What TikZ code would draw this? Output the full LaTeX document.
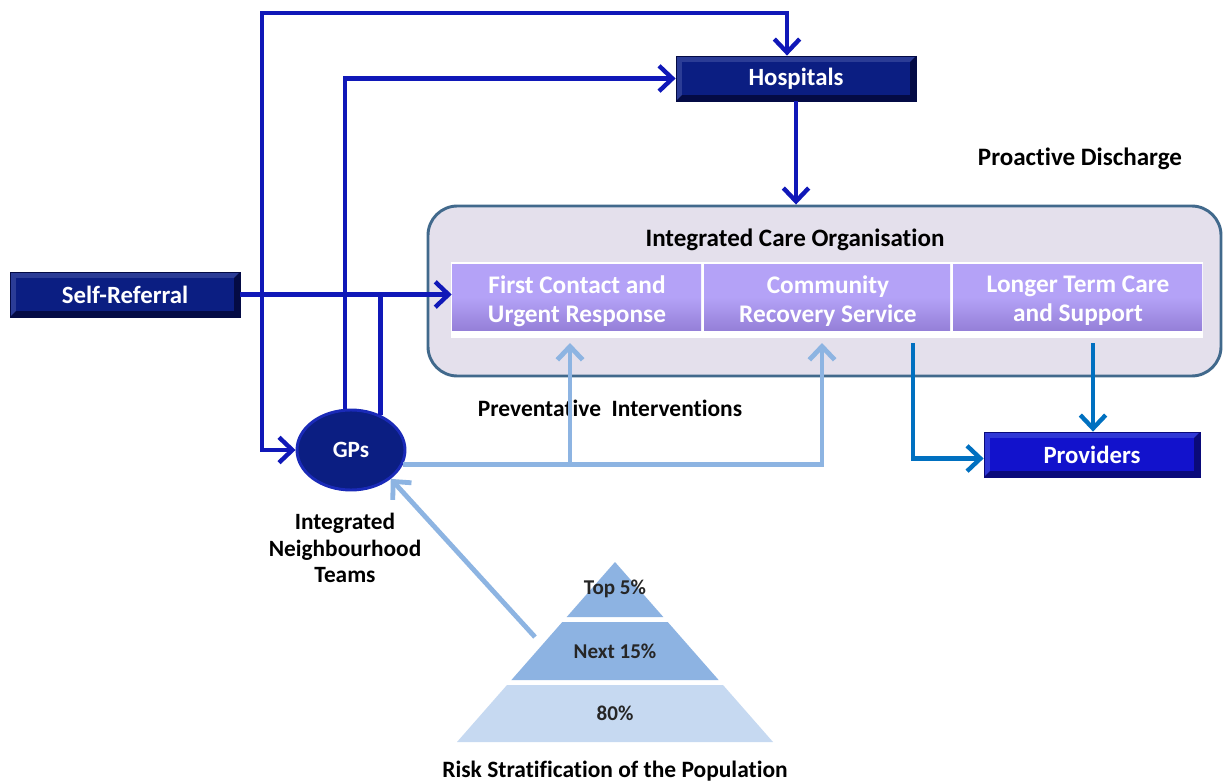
\documentclass[tikz,border=0pt]{standalone}
\usepackage{fontspec}
\setmainfont{Carlito}[Ligatures=NoCommon]
\usetikzlibrary{arrows.meta,shapes.geometric}
\definecolor{navy}{HTML}{0B1E82}
\definecolor{navyedge}{HTML}{2B3C96}
\definecolor{navydark}{HTML}{040B45}
\definecolor{blu}{HTML}{1212CC}
\definecolor{bluedge}{HTML}{3038D6}
\definecolor{bludark}{HTML}{0A0A7A}
\definecolor{dkline}{HTML}{1018B8}
\definecolor{ltline}{HTML}{8DB4E2}
\definecolor{mdline}{HTML}{0070C0}
\definecolor{icofill}{HTML}{E4E0EC}
\definecolor{icoborder}{HTML}{41698C}
\definecolor{purp}{HTML}{B4A2F7}
\definecolor{purpdark}{HTML}{9580D8}
\definecolor{pyrmid}{HTML}{8DB3E2}
\definecolor{pyrlow}{HTML}{C6D9F1}
\definecolor{gpborder}{HTML}{1A2AB8}
\tikzset{
  bevel/.style n args={3}{fill=#2, text=white, inner sep=0pt,
    font=\bfseries\fontsize{18.6}{22}\selectfont,
    path picture={
      \fill[#3] (path picture bounding box.south west) -- (path picture bounding box.south east)
        -- (path picture bounding box.north east)
        -- ([shift={(-4.5pt,-4.5pt)}]path picture bounding box.north east)
        -- ([shift={(-4.5pt,4.5pt)}]path picture bounding box.south east)
        -- ([shift={(4.5pt,4.5pt)}]path picture bounding box.south west) -- cycle;
      \fill[#1] ([shift={(4.5pt,-4.5pt)}]path picture bounding box.north west)
        rectangle ([shift={(-4.5pt,4.5pt)}]path picture bounding box.south east);
    }},
  navybox/.style={bevel={navy}{navyedge}{navydark}, draw=navydark, line width=0.6pt},
  bluebox/.style={bevel={blu}{bluedge}{bludark}, draw=bludark, line width=0.6pt},
  purpbox/.style={top color=purp, bottom color=purpdark, middle color=purp,
    inner sep=0pt, minimum height=66*0.75pt},
  purptxt/.style={text=white, align=center, inner sep=0pt,
    font=\bfseries\fontsize{19}{21.75}\selectfont},
  lbl/.style={font=\bfseries\fontsize{18.8}{20}\selectfont, align=center, text=black, inner sep=0pt},
  pyrtxt/.style={font=\bfseries\fontsize{15.8}{17}\selectfont, text=black!85, inner sep=0pt},
  dk/.style={draw=dkline, line width=3.3pt},
  lt/.style={draw=ltline, line width=3.6pt},
  md/.style={draw=mdline, line width=3.3pt},
  arr/.style={-{Straight Barb[length=10pt,width=19pt]}},
  dbl/.style={{Straight Barb[length=10pt,width=19pt]}-{Straight Barb[length=10pt,width=19pt]}}
}
\begin{document}
\begin{tikzpicture}[x=0.75pt,y=-0.75pt]
\useasboundingbox[fill=white] (0,0) rectangle (1223,784);

% Integrated Care Organisation container
\node[draw=icoborder, fill=icofill, line width=2.2pt, rounded corners=22pt,
      minimum width=793*0.75pt, minimum height=170*0.75pt, inner sep=0pt] (ico) at (824.5,291) {};
\node[lbl] (icot) at (795,240) {Integrated Care Organisation};
\node[fill=white, minimum width=752*0.75pt, minimum height=76*0.75pt, inner sep=0pt] (band) at (827,300) {};
\node[purpbox, minimum width=249*0.75pt] (fc) at (576.5,297) {};
\node[purpbox, minimum width=246*0.75pt] (crs) at (827,297) {};
\node[purpbox, minimum width=249*0.75pt] (lt) at (1077.5,297) {};
\node[purptxt] (fct) at (577,301) {First Contact and\\Urgent Response};
\node[purptxt] (crst) at (828,301) {Community\\Recovery Service};
\node[purptxt] (ltt) at (1078,301) {Longer Term Care\\and Support};

% boxes
\node[navybox, minimum width=230*0.75pt, minimum height=45*0.75pt] (sr) at (125,294.5) {Self-Referral};
\node[navybox, minimum width=240*0.75pt, minimum height=45*0.75pt] (hosp) at (796,78.5) {Hospitals};
\node[bluebox, minimum width=216*0.75pt, minimum height=45*0.75pt] (prov) at (1092,454.5) {Providers};
\node[ellipse, draw=gpborder, line width=2.2pt, fill=navy, minimum width=108*0.75pt,
      minimum height=80*0.75pt, inner sep=0pt, text=white,
      font=\bfseries\fontsize{17.5}{18}\selectfont] (gp) at (351,450) {GPs};

% labels
\node[lbl] (pd) at (1080,159) {Proactive Discharge};
\node[lbl, font=\bfseries\fontsize{17.6}{20}\selectfont] (pi) at (610,408) {Preventative\ \ Interventions};
\node[lbl, font=\bfseries\fontsize{17.5}{19.9}\selectfont] (int) at (345,548) {Integrated\\Neighbourhood\\Teams};
\node[lbl, font=\bfseries\fontsize{17.6}{20}\selectfont] (risk) at (615,771) {Risk Stratification of the Population};

% pyramid
\fill[pyrmid] (615,562) -- (663.3,617) -- (566.7,617) -- cycle;
\fill[pyrmid] (562.3,622) -- (667.7,622) -- (718.6,680) -- (511.4,680) -- cycle;
\fill[pyrlow] (507,685) -- (723,685) -- (773,742) -- (457,742) -- cycle;
\node[pyrtxt] (t5) at (615,589) {Top 5\%};
\node[pyrtxt] (n15) at (615,651) {Next 15\%};
\node[pyrtxt] (p80) at (615,713) {80\%};

% coordinates
\coordinate (ttop) at (262,13);
\coordinate (fcin) at (570,343);
\coordinate (crsin) at (822,343);
\coordinate (crsout) at (913,343);
\coordinate (ltout) at (1093,343);
\coordinate (pyr) at (535,637);

% dark blue connectors
\draw[dk, dbl] (gp.west) -| (ttop) -| ([xshift=-6.75pt]hosp.north);
\draw[dk, arr] (gp.98) |- (hosp.west);
\draw[dk] (gp.50) -- (gp.50 |- sr.east);
\draw[dk, arr] (sr.east) -- (sr.east -| fc.west);
\draw[dk, arr] (hosp.south) -- (hosp.south |- ico.north);

% light blue connectors
\draw[lt, arr] (gp.-16) -| (crsin);
\draw[lt, arr] (gp.-16 -| fcin) -- (fcin);
\draw[lt, arr] (pyr) -- (gp.-36);

% medium blue connectors
\draw[md, arr] (crsout) |- ([yshift=-3pt]prov.west);
\draw[md, arr] (ltout) -- (ltout |- prov.north);
\end{tikzpicture}
\end{document}
